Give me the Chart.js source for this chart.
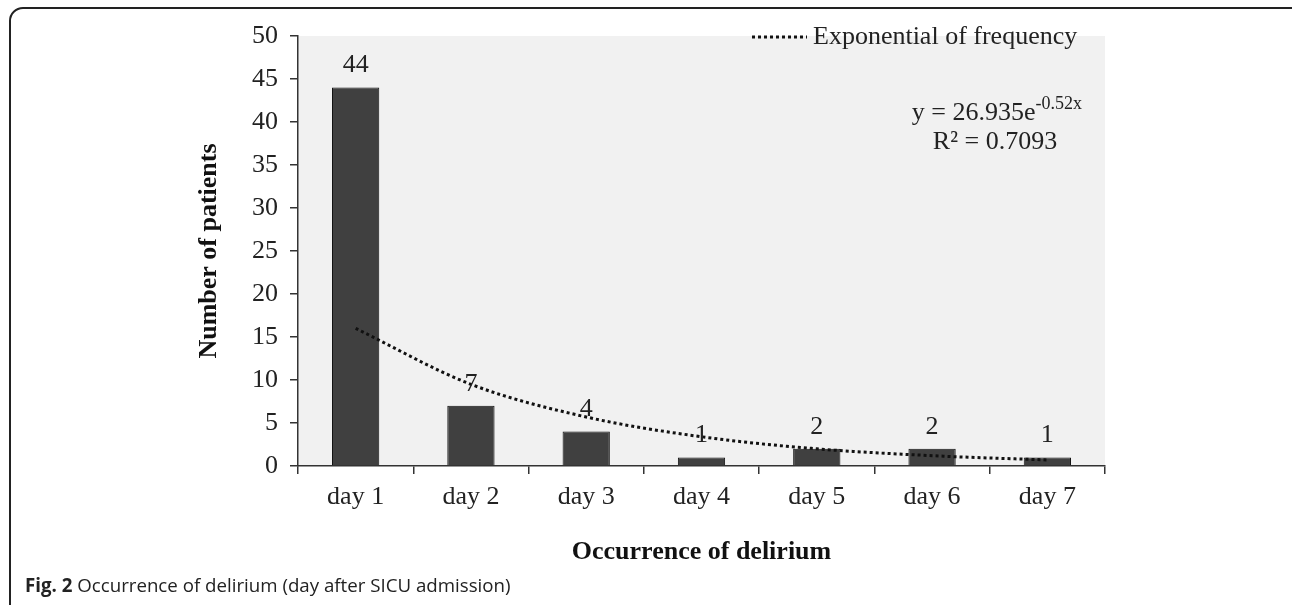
<!DOCTYPE html>
<html>
<head>
<meta charset="utf-8">
<script src="https://cdn.jsdelivr.net/npm/chart.js@4.4.1/dist/chart.umd.min.js"></script>
<style>
  html, body { margin: 0; padding: 0; background: #fff; }
  body { width: 1292px; height: 605px; position: relative; overflow: hidden; }
  #frame { position: absolute; left: 9px; top: 7px; width: 1300px; height: 620px;
           border: 2px solid #222; border-radius: 14px; box-sizing: border-box; }
  #wrap { position: absolute; left: 0; top: 0; width: 1292px; height: 605px; }
  #caption { position: absolute; left: 25px; top: 572px; font-family: "Open Sans", sans-serif;
             font-size: 18.7px; color: #222; white-space: nowrap; }
  #caption b { font-weight: 700; }
</style>
</head>
<body>
<div id="frame"></div>
<div id="wrap"><canvas id="chart1" width="1292" height="605"></canvas></div>
<div id="caption"><b>Fig. 2</b> Occurrence of delirium (day after SICU admission)</div>
<script>
// categories and values
const days = ['day 1', 'day 2', 'day 3', 'day 4', 'day 5', 'day 6', 'day 7'];
const patients = [44, 7, 4, 1, 2, 2, 1];
const trend = [16.0, 9.5, 5.7, 3.4, 2.0, 1.2, 0.7];
const yTicks = [0, 5, 10, 15, 20, 25, 30, 35, 40, 45, 50];

const serif = '"Liberation Serif", "Times New Roman", serif';

// grey plot background
const plotBack = {
  id: 'plotBack',
  beforeDraw(chart) {
    const a = chart.chartArea, c = chart.ctx;
    c.save();
    c.fillStyle = '#f1f1f1';
    c.fillRect(a.left, a.top, a.right - a.left, a.bottom - a.top);
    c.restore();
  }
};

// numbers above bars, legend entry and equation
const extras = {
  id: 'extras',
  afterDatasetsDraw(chart) {
    const c = chart.ctx;
    const meta = chart.getDatasetMeta(0);
    c.save();
    c.fillStyle = '#222';
    c.font = '26px ' + serif;
    c.textAlign = 'center';
    c.textBaseline = 'middle';
    meta.data.forEach(function(bar, i){
      c.fillText(String(patients[i]), bar.x, bar.y - 22);
    });

    const a = chart.chartArea;
    // legend sample
    c.strokeStyle = '#111';
    c.lineWidth = 3;
    c.setLineDash([3, 3]);
    c.beginPath();
    c.moveTo(a.right - 353, 37);
    c.lineTo(a.right - 298, 37);
    c.stroke();
    c.setLineDash([]);
    c.textAlign = 'left';
    c.fillText('Exponential of frequency', a.right - 292, 37);

    // equation
    c.textAlign = 'right';
    c.font = '18px ' + serif;
    c.fillText('-0.52x', a.right - 23, 104);
    const supW = c.measureText('-0.52x').width;
    c.font = '26px ' + serif;
    c.fillText('y = 26.935e', a.right - 23 - supW, 113);
    c.textAlign = 'center';
    c.fillText('R\u00b2 = 0.7093', a.right - 110, 142);
    c.restore();
  }
};

const data = {
  labels: days,
  datasets: [{
    type: 'bar',
    label: 'frequency',
    data: patients,
    backgroundColor: '#404040',
    borderColor: '#111',
    borderWidth: 1,
    categoryPercentage: 1,
    barPercentage: 0.41,
    order: 2
  }, {
    type: 'line',
    label: 'Exponential of frequency',
    data: trend,
    borderColor: '#111',
    borderWidth: 3,
    borderDash: [3, 3],
    pointRadius: 0,
    fill: false,
    cubicInterpolationMode: 'monotone',
    order: 1
  }]
};

const config = {
  type: 'bar',
  data: data,
  options: {
    responsive: false,
    animation: false,
    layout: { padding: { left: 190, top: 36, right: 187, bottom: 33 } },
    plugins: { legend: { display: false }, tooltip: { enabled: false } },
    scales: {
      x: {
        grid: { offset: true, drawOnChartArea: false, tickLength: 8, color: '#333', lineWidth: 1.5 },
        border: { color: '#333', width: 1.5 },
        ticks: { color: '#222', font: { family: serif, size: 26 }, padding: 8 },
        title: { display: true, text: 'Occurrence of delirium', color: '#111',
                 font: { family: serif, size: 26, weight: 'bold' } },
        afterFit: function(s){ s.height = 106; }
      },
      y: {
        min: 0, max: 50,
        afterBuildTicks: function(s){ s.ticks = yTicks.map(function(v){ return { value: v }; }); },
        grid: { drawOnChartArea: false, tickLength: 8, color: '#333', lineWidth: 1.5 },
        border: { color: '#333', width: 1.5 },
        ticks: { color: '#222', font: { family: serif, size: 26 }, padding: 12 },
        title: { display: true, text: 'Number of patients', color: '#111',
                 font: { family: serif, size: 26, weight: 'bold' } },
        afterFit: function(s){ s.width = 108; }
      }
    }
  },
  plugins: [plotBack, extras]
};

const myChart = new Chart(document.getElementById('chart1'), config);
</script>
</body>
</html>
